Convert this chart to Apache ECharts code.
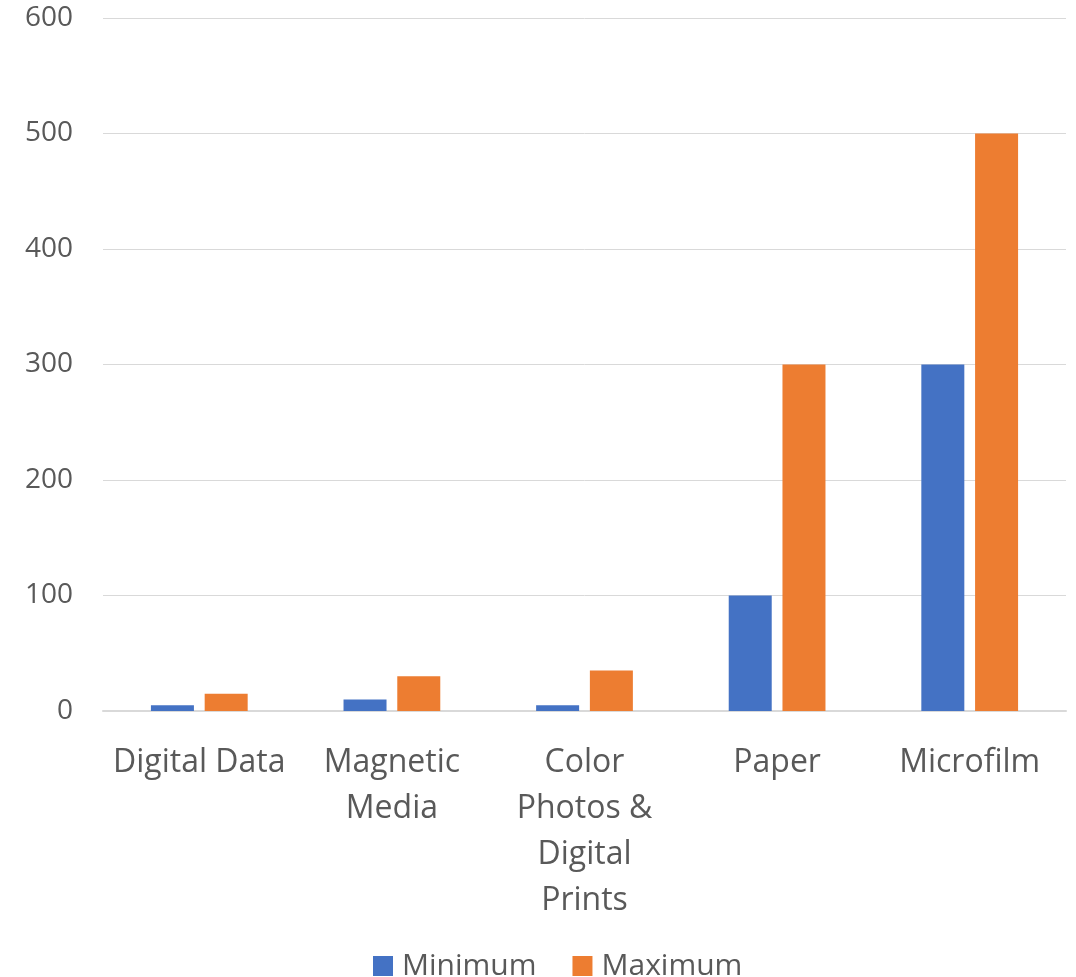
<!DOCTYPE html>
<html>
<head>
<meta charset="utf-8">
<script src="https://cdn.jsdelivr.net/npm/echarts@6/dist/echarts.min.js"></script>
<style>
  html, body { margin: 0; padding: 0; background: #fff; }
  #main { width: 1076px; height: 977px; }
</style>
</head>
<body>
<div id="main"></div>
<script>
// storage media lifespan, years
var categories = ['Digital Data', 'Magnetic\nMedia', 'Color\nPhotos &\nDigital\nPrints', 'Paper', 'Microfilm'];
var minimum = [5, 10, 5, 100, 300];
var maximum = [15, 30, 35, 300, 500];

var textColor = '#595959';
var font = 'Open Sans';

var chart = echarts.init(document.getElementById('main'));
chart.setOption({
  animation: false,
  color: ['#4472C4', '#ED7D31'],
  grid: { left: 103, right: 10, top: 18, bottom: 266, containLabel: false },
  legend: {
    top: 946,
    left: 368,
    itemWidth: 20,
    itemHeight: 20,
    itemGap: 36,
    icon: 'rect',
    textStyle: { color: textColor, fontSize: 30, fontFamily: font, padding: [0, 0, 0, 4] },
    data: ['Minimum', 'Maximum']
  },
  xAxis: {
    type: 'category',
    data: categories,
    axisTick: { show: false },
    axisLine: { lineStyle: { color: '#d9d9d9', width: 2 } },
    axisLabel: {
      color: textColor, fontSize: 32, fontFamily: font,
      lineHeight: 46, margin: 29, interval: 0
    }
  },
  yAxis: {
    type: 'value',
    min: 0,
    max: 600,
    interval: 100,
    axisLine: { show: false },
    axisTick: { show: false },
    splitLine: { lineStyle: { color: '#d9d9d9', width: 1 } },
    axisLabel: { color: textColor, fontSize: 28, fontFamily: font, margin: 30 }
  },
  series: [
    { name: 'Minimum', type: 'bar', data: minimum, barWidth: 43, barGap: '25%' },
    { name: 'Maximum', type: 'bar', data: maximum, barWidth: 43, barGap: '25%' }
  ]
});
</script>
</body>
</html>
